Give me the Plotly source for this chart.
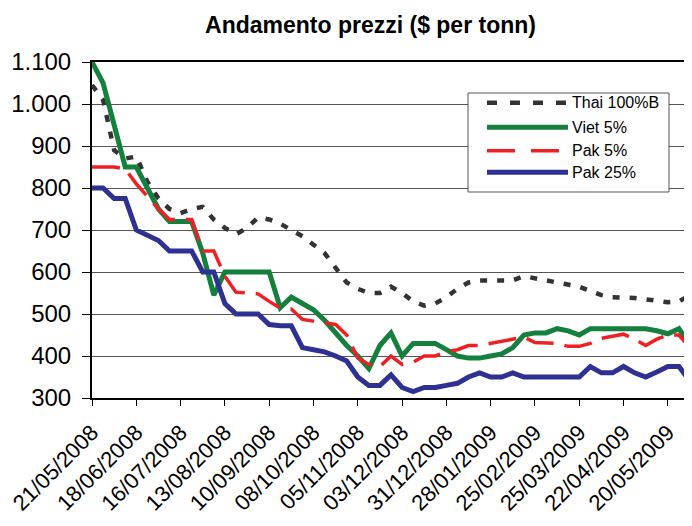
import plotly.graph_objects as go

dates = [
    "21/05/2008", "28/05/2008", "04/06/2008", "11/06/2008", "18/06/2008", "25/06/2008",
    "02/07/2008", "09/07/2008", "16/07/2008", "23/07/2008", "30/07/2008", "06/08/2008",
    "13/08/2008", "20/08/2008", "27/08/2008", "03/09/2008", "10/09/2008", "17/09/2008",
    "24/09/2008", "01/10/2008", "08/10/2008", "15/10/2008", "22/10/2008", "29/10/2008",
    "05/11/2008", "12/11/2008", "19/11/2008", "26/11/2008", "03/12/2008", "10/12/2008",
    "17/12/2008", "24/12/2008", "31/12/2008", "07/01/2009", "14/01/2009", "21/01/2009",
    "28/01/2009", "04/02/2009", "11/02/2009", "18/02/2009", "25/02/2009", "04/03/2009",
    "11/03/2009", "18/03/2009", "25/03/2009", "01/04/2009", "08/04/2009", "15/04/2009",
    "22/04/2009", "29/04/2009", "06/05/2009", "13/05/2009", "20/05/2009", "27/05/2009",
    "03/06/2009",
]

tick_labels = [
    "21/05/2008", "18/06/2008", "16/07/2008", "13/08/2008", "10/09/2008", "08/10/2008",
    "05/11/2008", "03/12/2008", "31/12/2008", "28/01/2009", "25/02/2009", "25/03/2009",
    "22/04/2009", "20/05/2009",
]

thai_100b = [
    1045, 1010, 890, 870, 875, 815, 775, 750, 740, 750, 755, 725,
    705, 690, 705, 730, 725, 715, 700, 685, 665, 645, 610, 575,
    560, 550, 550, 565, 550, 530, 520, 525, 540, 560, 575, 580,
    580, 580, 580, 590, 585, 580, 575, 570, 565, 555, 545, 540,
    540, 538, 535, 532, 528, 530, 545,
]

viet_5 = [
    1100, 1050, 950, 850, 850, 800, 750, 720, 720, 720, 645, 545,
    600, 600, 600, 600, 600, 515, 540, 525, 510, 485, 455, 425,
    400, 370, 425, 455, 400, 430, 430, 430, 415, 400, 395, 395,
    400, 405, 420, 450, 455, 455, 465, 460, 450, 465, 465, 465,
    465, 465, 465, 460, 453, 465, 425,
]

pak_5 = [
    850, 850, 850, 845, 810, 780, 750, 725, 725, 725, 650, 650,
    590, 552, 550, 548, 530, 514, 512, 487, 483, 480, 475, 450,
    395, 380, 375, 400, 380, 385, 400, 400, 410, 415, 425, 425,
    430, 435, 440, 445, 432, 432, 430, 423, 423, 430, 442, 447,
    452, 440, 425, 440, 450, 450, 420,
]

pak_25 = [
    800, 800, 775, 775, 700, 688, 675, 650, 650, 650, 600, 600,
    525, 500, 500, 500, 475, 472, 472, 420, 415, 410, 400, 388,
    350, 330, 330, 355, 325, 315, 325, 325, 330, 335, 350, 360,
    350, 350, 360, 350, 350, 350, 350, 350, 350, 375, 360, 360,
    375, 360, 350, 362, 375, 375, 340,
]

series = [
    ("Thai 100%B", thai_100b, "#333333", 4.5, "7px,10px"),
    ("Viet 5%", viet_5, "#15803E", 5, "solid"),
    ("Pak 5%", pak_5, "#EE2024", 3.5, "28px,11px"),
    ("Pak 25%", pak_25, "#2E3192", 5, "solid"),
]

FONT = "Liberation Sans, Arial, sans-serif"

fig = go.Figure()
for name, vals, color, width, dash in series:
    fig.add_trace(go.Scatter(
        x=dates, y=vals, mode="lines", name=name,
        line=dict(color=color, width=width, dash=dash),
        showlegend=False,
    ))

# Manual legend (box, samples, labels) in paper coordinates
legend_rows = [0.879, 0.806, 0.736, 0.672]
fig.add_shape(type="rect", xref="paper", yref="paper",
              x0=0.6288, x1=0.9649, y0=0.6131, y1=0.9077,
              line=dict(color="#555555", width=1), fillcolor="white", layer="above")
for (name, vals, color, width, dash), yy in zip(series, legend_rows):
    ldash = "10px,13px" if name == "Thai 100%B" else ("28px,16px" if dash != "solid" else "solid")
    fig.add_shape(type="line", xref="paper", yref="paper",
                  x0=0.6605, x1=0.7960, y0=yy, y1=yy,
                  line=dict(color=color, width=width, dash=ldash), layer="above")
    fig.add_annotation(xref="paper", yref="paper", x=0.7993, y=yy,
                       xanchor="left", yanchor="middle", text=name, showarrow=False,
                       font=dict(family=FONT, size=16, color="black"))

# page body has an 8px margin: figure is sized/offset to compensate
fig.update_layout(
    width=684, height=518, autosize=False,
    margin=dict(l=84, r=2, t=54, b=128, pad=0),
    paper_bgcolor="white", plot_bgcolor="white",
    font=dict(family=FONT, color="black"),
    title=dict(text="<b>Andamento prezzi ($ per tonn)</b>", xref="container", yref="container",
               x=(370.5 - 8) / 684, y=1 - (25 - 8) / 518, xanchor="center", yanchor="middle",
               font=dict(family=FONT, size=23, color="black")),
    separators=",.",
)
fig.update_xaxes(
    type="category", range=[0, len(dates) - 1], automargin=False,
    tickmode="array", tickvals=tick_labels, ticktext=tick_labels,
    tickangle=-45, tickfont=dict(family=FONT, size=22, color="black"),
    ticks="outside", ticklen=6, tickwidth=1, tickcolor="black", ticklabelstandoff=5,
    showgrid=False, showline=True, linecolor="black", linewidth=2, mirror=True,
    zeroline=False,
)
fig.update_yaxes(
    range=[300, 1100], dtick=100, tick0=300, tickformat=",d", automargin=False,
    tickfont=dict(family=FONT, size=24, color="black"),
    ticks="outside", ticklen=8, tickwidth=1, tickcolor="black", ticklabelstandoff=6,
    showgrid=True, gridcolor="#555555", gridwidth=1,
    showline=True, linecolor="black", linewidth=2, mirror=True,
    zeroline=False,
)

fig.write_html("out.html")
